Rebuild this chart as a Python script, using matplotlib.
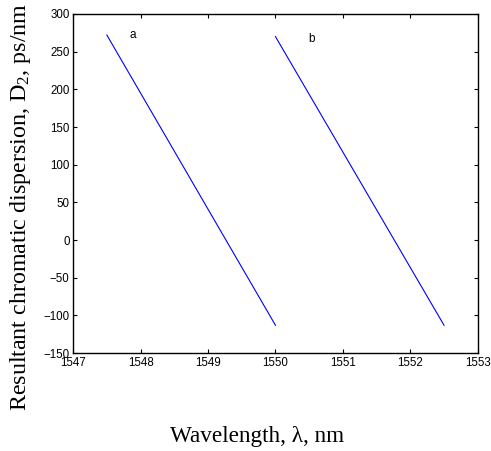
import matplotlib
matplotlib.use("Agg")
import matplotlib.pyplot as plt

plt.rcParams["mathtext.fontset"] = "custom"
plt.rcParams["mathtext.rm"] = "Liberation Serif"
plt.rcParams["mathtext.it"] = "Liberation Serif:italic"

# data
wl_a = [1547.5, 1550.0]
disp_a = [272, -113]
wl_b = [1550.0, 1552.5]
disp_b = [270, -113]
xticks = [1547, 1548, 1549, 1550, 1551, 1552, 1553]
yticks = [-150, -100, -50, 0, 50, 100, 150, 200, 250, 300]

fig = plt.figure(figsize=(4.91, 4.51), dpi=100)
ax = fig.add_axes([0.149, 0.217, 0.824, 0.752])

ax.plot(wl_a, disp_a, color="blue", lw=0.8)
ax.plot(wl_b, disp_b, color="blue", lw=0.8)
ax.text(1547.89, 272, "a", fontsize=8.5, family="Liberation Sans", ha="center", va="center")
ax.text(1550.53, 267, "b", fontsize=8.5, family="Liberation Sans", ha="center", va="center")

ax.set_xlim(1547, 1553)
ax.set_ylim(-150, 300)
ax.set_xticks(xticks)
ax.set_yticks(yticks)
ax.tick_params(direction="in", top=True, right=True, length=3, width=0.8,
               labelsize=8.3, pad=2.5)
for lab in ax.get_xticklabels() + ax.get_yticklabels():
    lab.set_family("Liberation Sans")
for sp in ax.spines.values():
    sp.set_linewidth(1.0)

fig.text(0.523, 0.033, "Wavelength, \u03bb, nm", family="Liberation Serif",
         fontsize=16.7, ha="center", va="center")
fig.text(0.042, 0.541, "Resultant chromatic dispersion, D$_2$, ps/nm",
         family="Liberation Serif", fontsize=17.3, rotation=90,
         ha="center", va="center")

fig.savefig("out.png", dpi=100)
